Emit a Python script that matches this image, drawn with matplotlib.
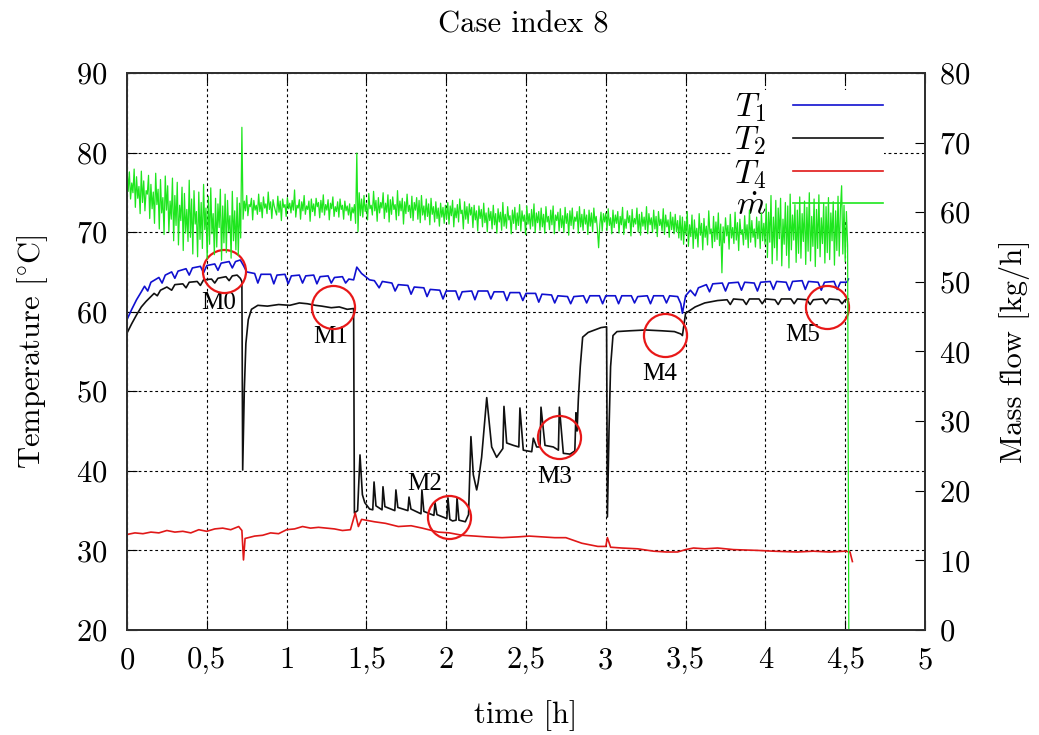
import numpy as np
import matplotlib
matplotlib.use('Agg')
from matplotlib import pyplot as plt
from matplotlib.ticker import FuncFormatter

plt.rcParams['font.family'] = ['cmr10', 'DejaVu Serif']
plt.rcParams['mathtext.fontset'] = 'cm'
plt.rcParams['axes.formatter.use_mathtext'] = True
plt.rcParams['axes.unicode_minus'] = False

# T1 (blue) - time [h], temperature [C]
t_T1 = [0.00, 0.03, 0.06, 0.09, 0.11, 0.13, 0.15, 0.20, 0.22, 0.24, 0.28, 0.30, 0.32,
        0.37, 0.39, 0.41, 0.46, 0.48, 0.50, 0.55, 0.57, 0.59, 0.64, 0.66, 0.68, 0.71,
        0.73, 0.75, 0.80, 0.82, 0.84, 0.90, 0.92, 0.94, 0.99, 1.01, 1.03, 1.08, 1.10,
        1.12, 1.17, 1.19, 1.21, 1.26, 1.28, 1.30, 1.35, 1.37, 1.39, 1.42, 1.44, 1.47,
        1.52, 1.55, 1.58, 1.60, 1.66, 1.68, 1.70, 1.76, 1.78, 1.80, 1.86, 1.88, 1.90,
        1.96, 1.98, 2.00, 2.06, 2.08, 2.10, 2.16, 2.18, 2.20, 2.26, 2.28, 2.30, 2.36,
        2.38, 2.40, 2.46, 2.48, 2.50, 2.56, 2.58, 2.60, 2.66, 2.68, 2.70, 2.76, 2.78,
        2.80, 2.86, 2.88, 2.90, 2.96, 2.98, 3.00, 3.06, 3.08, 3.10, 3.16, 3.18, 3.20,
        3.26, 3.28, 3.30, 3.36, 3.38, 3.40, 3.45, 3.47, 3.48, 3.50, 3.53, 3.56, 3.58,
        3.63, 3.65, 3.67, 3.73, 3.75, 3.77, 3.83, 3.85, 3.87, 3.93, 3.95, 3.97, 4.03,
        4.05, 4.07, 4.13, 4.15, 4.17, 4.23, 4.25, 4.27, 4.33, 4.35, 4.37, 4.43, 4.45,
        4.47, 4.51, 4.52]
T1 = [59.0, 60.3, 61.5, 62.5, 63.2, 62.6, 63.7, 64.3, 63.6, 64.6, 65.0, 64.2, 65.1,
      65.4, 64.6, 65.5, 65.7, 64.9, 65.8, 66.0, 65.2, 66.1, 66.3, 65.5, 66.3, 66.5,
      65.8, 65.0, 64.8, 63.6, 64.7, 64.7, 63.5, 64.6, 64.7, 63.5, 64.5, 64.6, 63.6,
      64.5, 64.6, 63.5, 64.4, 64.5, 63.6, 64.3, 64.4, 63.6, 64.1, 64.0, 65.6, 64.8,
      64.0, 63.9, 63.0, 63.8, 63.6, 62.6, 63.4, 63.3, 62.2, 63.1, 63.0, 61.9, 62.8,
      62.7, 61.6, 62.6, 62.6, 61.5, 62.5, 62.6, 61.5, 62.6, 62.6, 61.6, 62.5, 62.5,
      61.4, 62.4, 62.4, 61.4, 62.3, 62.3, 61.2, 62.2, 62.1, 61.1, 62.0, 61.9, 61.0,
      61.9, 62.0, 61.1, 62.0, 62.0, 61.0, 62.0, 62.0, 61.0, 62.0, 62.0, 61.1, 61.9,
      62.0, 61.0, 62.0, 62.0, 61.1, 62.0, 61.9, 61.0, 59.8, 62.0, 62.7, 62.0, 63.0,
      63.4, 62.5, 63.5, 63.6, 62.6, 63.6, 63.7, 62.7, 63.7, 63.6, 62.6, 63.7, 63.8,
      62.8, 63.8, 63.7, 62.7, 63.8, 63.9, 62.8, 63.8, 63.7, 62.7, 63.7, 63.8, 62.8,
      63.7, 63.7, 64.1]

# T2 (black)
t_T2 = [0.00, 0.03, 0.06, 0.09, 0.12, 0.14, 0.17, 0.19, 0.21, 0.25, 0.28, 0.30, 0.35,
        0.37, 0.39, 0.44, 0.46, 0.48, 0.53, 0.55, 0.57, 0.62, 0.64, 0.66, 0.69, 0.71,
        0.72, 0.725, 0.735, 0.745, 0.76, 0.78, 0.82, 0.88, 0.95, 1.02, 1.08, 1.13,
        1.18, 1.22, 1.28, 1.33, 1.38, 1.42, 1.425, 1.445, 1.46, 1.475, 1.49, 1.52,
        1.540, 1.548, 1.560, 1.598, 1.604, 1.616, 1.678, 1.685, 1.697, 1.760, 1.767,
        1.779, 1.842, 1.848, 1.860, 1.923, 1.930, 1.942, 2.004, 2.011, 2.023, 2.040,
        2.062, 2.068, 2.080, 2.12, 2.14, 2.155, 2.17, 2.191, 2.20, 2.222, 2.254,
        2.285, 2.316, 2.355, 2.362, 2.379, 2.421, 2.455, 2.462, 2.483, 2.536, 2.546,
        2.567, 2.588, 2.594, 2.619, 2.671, 2.703, 2.709, 2.734, 2.776, 2.806, 2.813,
        2.82, 2.828, 2.84, 2.855, 2.89, 2.97, 3.005, 3.01, 3.02, 3.03, 3.045, 3.07,
        3.15, 3.25, 3.35, 3.43, 3.47, 3.48, 3.50, 3.56, 3.62, 3.70, 3.76, 3.78, 3.80,
        3.86, 3.88, 3.90, 3.96, 3.98, 4.00, 4.06, 4.08, 4.10, 4.16, 4.18, 4.20, 4.26,
        4.28, 4.30, 4.36, 4.38, 4.40, 4.46, 4.48, 4.50, 4.52]
T2 = [57.3, 58.5, 59.6, 60.6, 61.3, 61.7, 62.3, 62.0, 62.7, 63.1, 62.7, 63.4, 63.5,
      63.0, 63.7, 63.8, 63.3, 64.0, 64.1, 63.6, 64.2, 64.4, 63.9, 64.5, 64.6, 64.2,
      63.8, 40.1, 50.0, 56.0, 59.0, 60.3, 60.8, 60.7, 60.9, 60.8, 61.1, 61.0,
      60.8, 60.7, 60.5, 60.6, 60.3, 60.4, 34.7, 35.0, 42.0, 37.0, 36.0, 35.2,
      35.1, 38.6, 35.6, 35.1, 38.0, 35.5, 35.0, 37.6, 35.4, 35.0, 36.7,
      35.2, 34.6, 37.6, 34.9, 34.4, 36.0, 34.5, 34.0, 36.6, 33.9, 33.7,
      33.8, 36.6, 33.8, 33.6, 34.5, 44.3, 39.5, 37.6, 38.5, 41.7, 49.2,
      43.0, 41.7, 42.8, 48.1, 43.5, 43.2, 43.0, 47.9, 42.6, 42.4, 44.1,
      43.0, 43.0, 48.0, 43.2, 43.0, 42.6, 48.0, 42.2, 42.1, 42.5, 47.3,
      45.0, 49.0, 53.1, 56.8, 57.4, 58.0, 58.1, 34.2, 45.0, 53.1, 57.0, 57.5,
      57.6, 57.7, 57.6, 57.5, 57.2, 57.0, 59.8, 60.6, 61.1, 61.4, 61.5, 60.9, 61.6,
      61.5, 60.9, 61.6, 61.6, 61.0, 61.6, 61.5, 60.9, 61.6, 61.6, 61.0, 61.6, 61.5,
      60.9, 61.5, 61.6, 61.0, 61.6, 61.5, 61.0, 61.5, 61.6]

# T4 (red)
t_T4 = [0.00, 0.05, 0.10, 0.15, 0.20, 0.25, 0.30, 0.35, 0.40, 0.45, 0.50, 0.55, 0.60,
        0.65, 0.70, 0.72, 0.73, 0.74, 0.80, 0.85, 0.90, 0.95, 1.00, 1.05, 1.10, 1.15,
        1.20, 1.25, 1.30, 1.35, 1.40, 1.43, 1.45, 1.47, 1.55, 1.62, 1.70, 1.78, 1.85,
        1.95, 2.02, 2.10, 2.18, 2.25, 2.35, 2.45, 2.52, 2.60, 2.68, 2.75, 2.85, 2.95,
        3.00, 3.01, 3.03, 3.10, 3.20, 3.30, 3.38, 3.45, 3.50, 3.55, 3.62, 3.70, 3.80,
        3.95, 4.05, 4.20, 4.30, 4.40, 4.50, 4.53, 4.545]
T4 = [32.0, 32.2, 32.1, 32.3, 32.2, 32.5, 32.3, 32.4, 32.2, 32.6, 32.4, 32.7, 32.8,
      32.6, 33.0, 32.5, 28.8, 31.5, 31.8, 31.9, 32.2, 32.1, 32.6, 32.7, 33.0, 32.8,
      32.9, 32.8, 32.7, 32.5, 32.6, 34.7, 33.0, 33.9, 33.6, 33.4, 33.0, 33.1, 32.8,
      32.3, 32.2, 31.9, 31.8, 31.7, 31.6, 31.7, 31.8, 31.7, 31.6, 31.6, 30.9, 30.5,
      30.5, 31.6, 30.4, 30.3, 30.2, 29.9, 29.8, 29.8, 30.1, 30.3, 30.2, 30.3, 30.1,
      30.0, 29.9, 29.8, 29.9, 29.8, 29.9, 29.8, 28.6]

# mass flow (green) [kg/h], one sample every dt_m hours, last sample = switch-off
dt_m = 0.0075
m_flow = [
    # 0 - 0.72 h
    66.5, 63.0, 65.8, 61.9, 64.2, 62.8, 66.2, 60.7, 65.1, 62.0, 63.7, 59.8, 65.9, 61.4, 64.5, 60.2, 63.1, 62.6, 65.3, 59.1,
    64.0, 60.5, 62.9, 58.4, 65.6, 61.1, 63.3, 57.6, 64.7, 59.9, 62.1, 56.8, 65.2, 60.3, 63.8, 57.2, 61.6, 59.0, 64.9, 55.9,
    62.4, 58.1, 64.3, 55.3, 61.0, 58.8, 63.6, 54.5, 62.7, 57.0, 60.4, 55.8, 64.6, 56.4, 61.9, 54.0, 63.1, 58.3, 60.1, 53.6,
    62.9, 56.1, 61.4, 54.8, 64.0, 57.5, 60.6, 53.3, 62.3, 55.4, 63.5, 56.9, 59.8, 53.9, 62.0, 55.0, 61.2, 57.8, 63.3, 53.1,
    60.9, 55.6, 62.6, 54.2, 61.7, 57.2, 59.5, 53.4, 63.0, 55.9, 60.2, 54.6, 62.1, 53.8, 61.3, 56.3,
    72.2,
    # 0.73 - 1.43 h
    59.0, 61.6, 60.2, 62.4, 59.5, 61.1, 60.8, 62.0, 58.9, 61.7, 60.3, 61.0, 59.7, 62.6, 60.1, 61.4, 59.2, 62.2, 60.6, 61.2,
    59.8, 62.9, 60.4, 61.5, 59.1, 61.8, 60.9, 60.2, 59.6, 62.3, 60.0, 61.6, 58.8, 61.9, 60.7, 61.1, 59.4, 62.1, 60.5, 61.3,
    59.9, 61.7, 60.3, 63.2, 59.3, 61.0, 60.6, 61.8, 59.0, 61.5, 60.2, 62.4, 59.7, 60.9, 60.4, 61.6, 58.7, 61.9, 60.1, 61.2,
    59.5, 62.0, 60.8, 61.4, 59.2, 61.7, 60.0, 62.5, 59.6, 61.1, 60.3, 61.8, 58.9, 61.3, 60.5, 62.2, 59.4, 60.8, 60.1, 61.5,
    59.3, 61.9, 60.4, 61.0, 59.0, 61.6, 60.2, 60.9, 59.6, 61.2, 58.8, 60.7, 59.9, 61.1, 58.4,
    68.5, 57.2, 62.8, 59.5,
    # 1.47 - 2.0 h
    61.9, 59.3, 62.4, 60.1, 61.2, 58.9, 62.7, 60.5, 61.0, 59.6, 63.0, 60.2, 61.7, 58.7, 62.1, 59.9, 61.4, 60.6, 62.8, 59.1,
    61.3, 60.0, 62.5, 58.6, 61.8, 59.7, 62.2, 60.4, 61.1, 58.9, 63.1, 59.5, 61.6, 60.2, 62.0, 58.3, 61.5, 59.8, 62.6, 60.1,
    61.0, 59.2, 62.3, 58.8, 61.4, 60.3, 62.1, 59.0, 61.7, 58.5, 62.4, 59.6, 60.9, 58.9, 61.9, 59.4, 61.2, 58.2, 62.0, 59.7,
    60.8, 58.6, 61.5, 59.1, 60.6, 58.0, 61.3, 59.3, 60.7, 58.4, 61.0,
    # 2.0 - 3.0 h
    59.0, 61.4, 58.3, 60.9, 59.5, 61.7, 57.9, 60.6, 59.2, 61.1, 58.6, 61.9, 59.8, 60.3, 57.6, 61.5, 59.0, 60.8, 58.4, 61.2,
    59.6, 60.7, 57.8, 61.0, 58.9, 60.2, 57.3, 60.9, 59.1, 60.4, 57.9, 61.3, 58.5, 59.9, 57.2, 60.6, 58.8, 60.1, 57.6, 61.0,
    58.2, 59.8, 57.0, 60.5, 58.6, 60.0, 57.4, 61.4, 58.0, 59.7, 57.7, 60.8, 58.9, 59.5, 56.9, 60.3, 58.4, 60.7, 57.5, 59.9,
    58.1, 61.1, 57.3, 60.2, 58.7, 59.6, 56.8, 60.9, 58.3, 59.8, 57.6, 60.4, 58.0, 61.2, 57.1, 59.9, 58.5, 60.1, 57.4, 60.6,
    57.9, 59.7, 57.0, 60.8, 58.6, 59.4, 57.5, 60.3, 58.2, 60.9, 56.9, 59.6, 58.8, 60.0, 57.3, 60.5, 57.8, 59.5, 57.1, 60.7,
    58.4, 59.8, 56.7, 60.2, 58.1, 60.6, 57.6, 59.3, 58.7, 60.1, 57.0, 60.8, 57.9, 59.7, 57.4, 60.4, 58.3, 59.6, 56.8, 60.3,
    58.0, 59.9, 57.2, 60.6, 58.5, 59.4, 57.5, 54.9, 58.2, 60.0, 57.3, 59.8, 58.6,
    # 3.0 - 3.47 h
    59.9, 57.4, 60.5, 58.1, 59.2, 56.9, 60.3, 57.8, 59.6, 58.4, 60.1, 57.0, 59.4, 58.2, 60.7, 56.8, 59.0, 57.7, 60.2, 58.5,
    59.5, 56.6, 60.4, 57.9, 59.1, 58.3, 60.6, 57.2, 59.7, 56.7, 60.0, 58.0, 59.3, 57.5, 60.8, 56.9, 59.8, 58.2, 59.2, 57.1,
    60.3, 57.6, 59.4, 56.5, 60.1, 58.1, 59.0, 57.3, 60.5, 56.8, 59.6, 57.9, 58.9, 56.4, 60.0, 57.5, 59.3, 56.9, 59.7, 57.2,
    58.8, 56.3, 59.5,
    # 3.47 - 4.0 h
    56.0, 59.3, 55.4, 58.7, 56.8, 60.1, 55.1, 58.2, 56.5, 59.6, 54.8, 58.9, 56.2, 57.7, 55.0, 59.8, 56.7, 58.4, 54.6, 59.1,
    56.4, 58.0, 55.3, 60.2, 56.9, 57.6, 54.9, 59.4, 55.8, 58.6, 56.1, 59.9, 55.2, 58.3, 51.3, 57.9, 55.6, 59.2, 56.6, 58.1,
    54.7, 59.7, 56.3, 57.8, 55.5, 60.0, 56.0, 58.5, 54.5, 59.0, 56.8, 57.5, 55.3, 59.5, 56.1, 58.2, 54.9, 60.3, 55.7, 58.8,
    56.4, 57.6, 55.0, 59.3, 56.2, 58.7, 54.8, 59.9, 55.9, 58.4, 55.4,
    # 4.0 - 4.52 h
    61.2, 53.5, 60.0, 55.7, 62.4, 52.6, 59.3, 54.9, 61.7, 53.1, 60.6, 56.2, 62.0, 52.3, 59.0, 55.4, 61.4, 53.8, 60.9, 52.0,
    62.6, 54.6, 59.6, 56.0, 61.1, 52.8, 60.3, 54.1, 62.2, 53.4, 59.8, 55.8, 61.6, 52.5, 60.7, 54.4, 62.8, 53.0, 59.4, 55.1,
    61.9, 52.2, 60.4, 54.8, 62.5, 53.6, 59.2, 55.5, 61.3, 52.7, 60.8, 54.2, 62.1, 53.2, 59.9, 55.9, 61.5, 52.4, 60.2, 54.5,
    62.3, 53.7, 60.5, 63.8, 54.0, 61.0, 52.9, 60.1, 55.2,
    0.0]
t_m = np.arange(len(m_flow)) * dt_m

# measurement points
mark_names = ['M0', 'M1', 'M2', 'M3', 'M4', 'M5']
mark_t = [0.61, 1.29, 2.015, 2.707, 3.371, 4.389]
mark_T = [65.1, 60.6, 34.2, 44.3, 57.1, 60.65]
label_t = [0.576, 1.275, 1.867, 2.682, 3.337, 4.232]
label_T = [61.1, 56.8, 38.35, 39.2, 52.2, 57.1]

fig = plt.figure(figsize=(10.39, 7.35), dpi=100)
ax = fig.add_axes([0.1222, 0.1429, 0.7681, 0.7578])
ax2 = ax.twinx()

l1, = ax.plot(t_T1, T1, color='#1010d0', lw=1.2, label='$T_1$')
l2, = ax.plot(t_T2, T2, color='#101010', lw=1.2, label='$T_2$')
l4, = ax.plot(t_T4, T4, color='#e01818', lw=1.2, label='$T_4$')
lm, = ax2.plot(t_m, m_flow, color='#1ee61e', lw=0.9, label=r'$\dot{m}$')

ax.plot(mark_t, mark_T, 'o', ms=31, mfc='none', mec='#e81818', mew=1.6, zorder=4)
for name, x, y in zip(mark_names, label_t, label_T):
    ax.text(x, y, name, family='Liberation Serif', fontsize=18, ha='center', va='center')

ax.set_xlim(0, 5)
ax.set_ylim(20, 90)
ax2.set_ylim(0, 80)
ax.set_xticks(np.arange(0, 5.01, 0.5))
ax.set_yticks(np.arange(20, 91, 10))
ax2.set_yticks(np.arange(0, 81, 10))
ax.xaxis.set_major_formatter(FuncFormatter(lambda v, p: ('%g' % v).replace('.', ',')))

ax.grid(True, color='black', linestyle=(0, (2.5, 2.5)), linewidth=0.8)
ax.tick_params(axis='x', direction='in', top=True, length=7, labelsize=22, pad=12)
ax.tick_params(axis='y', direction='in', right=False, length=7, labelsize=22, pad=14)
ax2.tick_params(axis='y', direction='in', length=7, labelsize=22, pad=10)
for a in (ax, ax2):
    for s in a.spines.values():
        s.set_color('#303030')
        s.set_linewidth(1.3)

ax.set_xlabel('time [h]', fontsize=22, labelpad=19)
ax.set_ylabel(r'Temperature [$^{\circ}$C]', fontsize=22, labelpad=19)
ax2.set_ylabel('Mass flow [kg/h]', fontsize=22, labelpad=21)
fig.text(0.504, 0.966, 'Case index 8', fontsize=22, ha='center', va='center')

leg = ax.legend(handles=[l1, l2, l4, lm], loc='upper right', bbox_to_anchor=(0.97, 1.0),
                fontsize=24, markerfirst=False, handlelength=2.7, labelspacing=0.02,
                frameon=True, fancybox=False, borderpad=0.05, handletextpad=0.8)
leg.get_frame().set_edgecolor('none')
leg.get_frame().set_facecolor('white')
leg.get_frame().set_alpha(1)
leg.set_zorder(5)
for h in leg.get_lines():
    h.set_linewidth(1.2)

plt.savefig('out.png', dpi=100)
